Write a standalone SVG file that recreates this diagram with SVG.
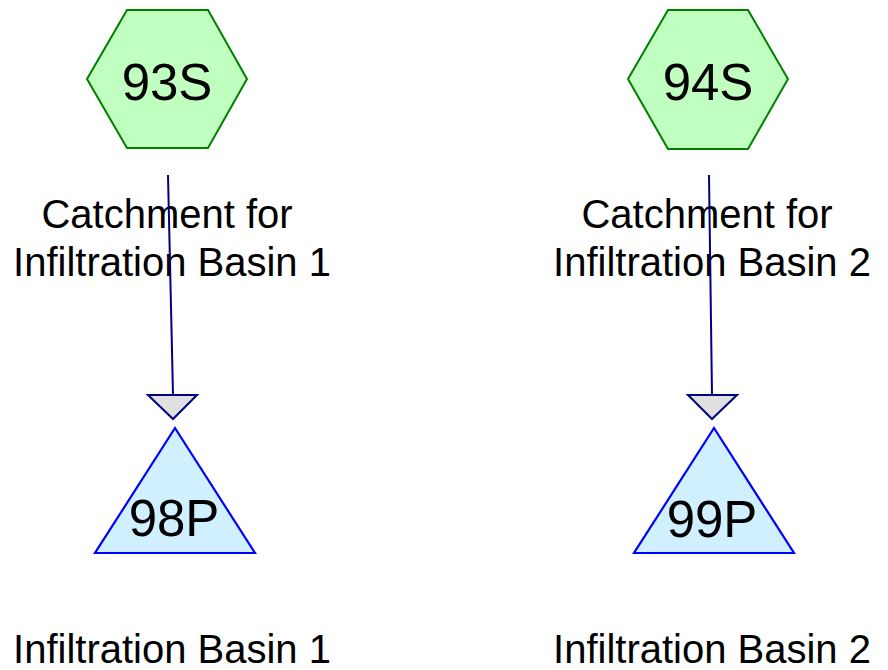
<svg xmlns="http://www.w3.org/2000/svg" width="888" height="670" viewBox="0 0 888 670">
<style>
.hex{fill:#C0FFC0;stroke:#008000;stroke-width:2}
.tri{fill:#D0F0FF;stroke:#0000FF;stroke-width:2.2}
.id{font-family:"Liberation Sans",Arial,sans-serif;font-size:51px;fill:#000;text-anchor:middle}
.lbl{font-family:"Liberation Sans",Arial,sans-serif;font-size:40px;fill:#000;text-anchor:middle}
.edge{stroke:#000080;stroke-width:2;fill:none}
.head{fill:#E0E0E0;stroke:#000080;stroke-width:2}
</style>
<rect width="888" height="670" fill="#fff"/>
<g id="node-93S">
<polygon class="hex" points="87,79 127,10 208,10 247,79 208,148 127,148"/>
<text class="id" x="167" y="100">93S</text>
<text class="lbl" x="167" y="228">Catchment for</text>
<text class="lbl" x="172" y="276">Infiltration Basin 1</text>
</g>
<g id="node-94S">
<polygon class="hex" points="628,79 668,10 748,10 788,79 748,149 668,149"/>
<text class="id" x="708" y="100">94S</text>
<text class="lbl" x="707" y="228">Catchment for</text>
<text class="lbl" x="712" y="276">Infiltration Basin 2</text>
</g>
<g id="node-98P">
<polygon class="tri" points="175,428 255,553 95,553"/>
<text class="id" x="174" y="536">98P</text>
<text class="lbl" x="172" y="663">Infiltration Basin 1</text>
</g>
<g id="node-99P">
<polygon class="tri" points="714,428 794,553 634,553"/>
<text class="id" x="712" y="537">99P</text>
<text class="lbl" x="712" y="663">Infiltration Basin 2</text>
</g>
<g id="connectors">
<line class="edge" x1="168" y1="175" x2="173" y2="395"/>
<polygon class="head" points="148,395 197,395 173,419"/>
<line class="edge" x1="709" y1="175" x2="712" y2="395"/>
<polygon class="head" points="688,395 737,395 712,419"/>
</g>
</svg>
